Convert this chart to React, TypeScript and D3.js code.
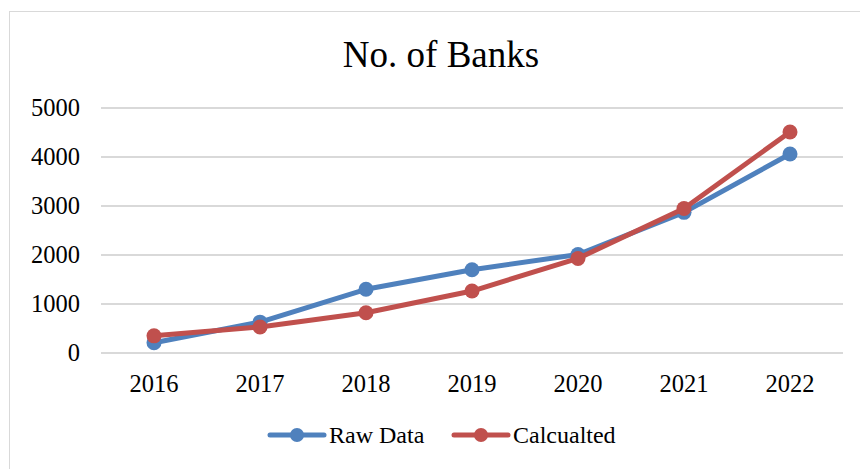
import React from "react";
import * as d3 from "d3";

const years = ["2016", "2017", "2018", "2019", "2020", "2021", "2022"];
const rawData = [210, 630, 1300, 1700, 2010, 2870, 4060];
const calculated = [350, 530, 820, 1265, 1930, 2950, 4510];
const yTicks = [0, 1000, 2000, 3000, 4000, 5000];
const seriesNames = ["Raw Data", "Calcualted"];
const colors = ["#4F81BD", "#C0504D"];

const W = 860;
const H = 469;
const FONT = "'Liberation Serif', 'Times New Roman', serif";

export default function App() {
  const x = d3.scalePoint<string>().domain(years).range([101, 843]).padding(0.5);
  const y = d3.scaleLinear().domain([0, 5000]).range([353, 108]);
  const line = d3
    .line<number>()
    .x((_, i) => x(years[i]) as number)
    .y((d) => y(d));
  const series = [rawData, calculated];

  const legendItems = [
    { lx: 270, tx: 329 },
    { lx: 454, tx: 513 },
  ];

  return (
    <svg
      width={W}
      height={H}
      style={{ position: "absolute", left: 0, top: 0, background: "#fff" }}
      fontFamily={FONT}
    >
      <rect x={9.5} y={11.5} width={W} height={H} fill="#fff" stroke="#d9d9d9" strokeWidth={1} />
      <text x={441} y={67} textAnchor="middle" fontSize={37} fill="#000">
        No. of Banks
      </text>
      {yTicks.map((t) => (
        <g key={t}>
          <line x1={101} x2={843} y1={y(t)} y2={y(t)} stroke="#d9d9d9" strokeWidth={2} />
          <text x={80} y={y(t) + 8} textAnchor="end" fontSize={24.5} fill="#000">
            {t}
          </text>
        </g>
      ))}
      {years.map((yr) => (
        <text key={yr} x={x(yr)} y={392} textAnchor="middle" fontSize={24.5} fill="#000">
          {yr}
        </text>
      ))}
      {series.map((s, si) => (
        <g key={si}>
          <path d={line(s) || ""} fill="none" stroke={colors[si]} strokeWidth={5} strokeLinejoin="round" strokeLinecap="round" />
          {s.map((v, i) => (
            <circle key={i} cx={x(years[i])} cy={y(v)} r={7.5} fill={colors[si]} />
          ))}
        </g>
      ))}
      {seriesNames.map((n, i) => (
        <g key={n}>
          <line x1={legendItems[i].lx} x2={legendItems[i].lx + 54} y1={435} y2={435} stroke={colors[i]} strokeWidth={5} strokeLinecap="round" />
          <circle cx={legendItems[i].lx + 27} cy={435} r={7} fill={colors[i]} />
          <text x={legendItems[i].tx} y={443} fontSize={24} fill="#000">
            {n}
          </text>
        </g>
      ))}
    </svg>
  );
}
